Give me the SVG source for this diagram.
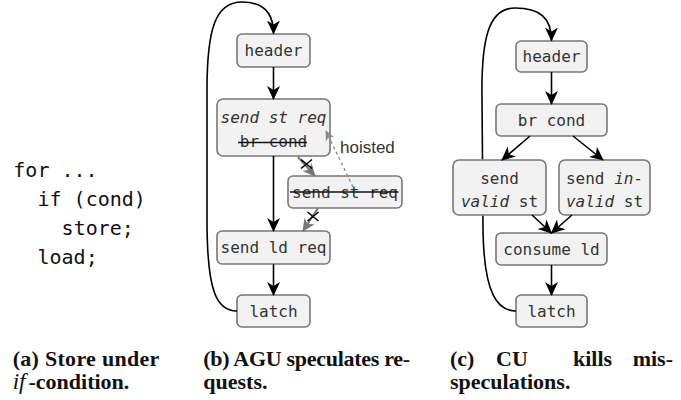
<svg xmlns="http://www.w3.org/2000/svg" width="681" height="400" viewBox="0 0 681 400">
<defs>
<style>
.box{fill:#f2f2f2;stroke:#777;stroke-width:1.6}
.nt{font-family:"DejaVu Sans Mono","Liberation Mono",monospace;font-size:16px;fill:#333;text-anchor:middle}
.it{font-style:italic}
.code{font-family:"DejaVu Sans Mono","Liberation Mono",monospace;font-size:20px;fill:#111}
.cap{font-family:"Liberation Serif",serif;font-size:22px;font-weight:bold;fill:#111}
.e{fill:none;stroke:#000;stroke-width:1.6;marker-end:url(#ah)}
.g{fill:none;stroke:#777;stroke-width:2;marker-end:url(#ag)}
.d{fill:none;stroke:#888;stroke-width:1.3;stroke-dasharray:3,3;marker-end:url(#ag2)}
.x{stroke:#000;stroke-width:1.6}
.strike{stroke:#111;stroke-width:1.6}
</style>
<marker id="ah" viewBox="0 0 14 14" refX="13" refY="7" markerWidth="14" markerHeight="14" markerUnits="userSpaceOnUse" orient="auto"><path d="M0,0.5 L14,7 L0,13.5 L4,7 z" fill="#000"/></marker>
<marker id="ag" viewBox="0 0 14 14" refX="13" refY="7" markerWidth="13" markerHeight="13" markerUnits="userSpaceOnUse" orient="auto"><path d="M0,0.5 L14,7 L0,13.5 L4,7 z" fill="#777"/></marker>
<marker id="ag2" viewBox="0 0 14 14" refX="13" refY="7" markerWidth="10" markerHeight="10" markerUnits="userSpaceOnUse" orient="auto"><path d="M0,0.5 L14,7 L0,13.5 L4,7 z" fill="#888"/></marker>
</defs>
<rect width="681" height="400" fill="#fff"/>

<g id="code">
<text class="code" x="13.3" y="177">for ...</text>
<text class="code" x="37.5" y="206">if (cond)</text>
<text class="code" x="61.6" y="235">store;</text>
<text class="code" x="37.5" y="264">load;</text>
</g>

<g id="b-header"><rect class="box" x="237" y="34" width="73" height="33" rx="5"/><text class="nt" x="273.5" y="56">header</text></g>
<g id="b-sendst"><rect class="box" x="217" y="99" width="113" height="57" rx="6"/>
<text class="nt it" x="273.5" y="123">send st req</text>
<text class="nt" x="273.5" y="147">br cond</text>
<line class="strike" x1="238" y1="142.5" x2="307" y2="142.5"/></g>
<g id="b-hoisted"><rect class="box" x="288" y="176" width="114" height="32" rx="5"/>
<text class="nt" x="345" y="197.5">send st req</text>
<line class="strike" x1="290" y1="192" x2="398.5" y2="192"/></g>
<text x="340" y="153" font-family="Liberation Sans,Arial,sans-serif" font-size="17" fill="#333">hoisted</text>
<g id="b-sendld"><rect class="box" x="217" y="231" width="113" height="33" rx="5"/><text class="nt" x="273.5" y="253">send ld req</text></g>
<g id="b-latch"><rect class="box" x="237" y="295" width="73" height="32" rx="5"/><text class="nt" x="273.5" y="317">latch</text></g>

<g id="c-header"><rect class="box" x="516" y="41" width="71" height="31" rx="5"/><text class="nt" x="551.5" y="62">header</text></g>
<g id="c-brcond"><rect class="box" x="496" y="104" width="111" height="32" rx="5"/><text class="nt" x="551.5" y="125.5">br cond</text></g>
<g id="c-valid"><rect class="box" x="453" y="160" width="93" height="55" rx="6"/>
<text class="nt" x="499.5" y="183.5">send</text>
<text class="nt" x="499.5" y="207"><tspan class="it">valid</tspan> st</text></g>
<g id="c-invalid"><rect class="box" x="559" y="160" width="91" height="55" rx="6"/>
<text class="nt" x="604.5" y="183.5">send <tspan class="it">in-</tspan></text>
<text class="nt" x="604.5" y="207"><tspan class="it">valid</tspan> st</text></g>
<g id="c-consume"><rect class="box" x="496" y="233" width="111" height="32" rx="5"/><text class="nt" x="551.5" y="255">consume ld</text></g>
<g id="c-latch"><rect class="box" x="516" y="295" width="71" height="32" rx="5"/><text class="nt" x="551.5" y="317">latch</text></g>

<g id="connectors">
<path class="e" d="M237,311 C216,311 207,290 207,220 L207,90 C207,30 215,2 242,2 C263,2 273.5,12 273.5,33.5"/>
<path class="e" d="M273.5,67 L273.5,99"/>
<path class="e" d="M273.5,156 L273.5,231"/>
<path class="e" d="M273.5,264 L273.5,295"/>
<path class="g" d="M298,157 L315,176"/>
<path class="g" d="M318,208 L303,231"/>
<path class="d" d="M353,187 L326,131"/>
<path class="x" d="M301,159.5 L312,168.5 M301,168.5 L312,159.5"/>
<path class="x" d="M307.5,212 L318.5,221 M307.5,221 L318.5,212"/>

<path class="e" d="M516,311 C498,311 484,295 483,230 L482.9,215.8 M482.5,159.2 L482,100 C481,40 488,8 515,8 C540,8 551.5,18 551.5,40.5"/>
<path class="e" d="M551.5,72 L551.5,104"/>
<path class="e" d="M530,136 L502,160"/>
<path class="e" d="M573,136 L603,160"/>
<path class="e" d="M532,215 L551.5,233"/>
<path class="e" d="M572,215 L551.5,233"/>
<path class="e" d="M551.5,265 L551.5,295"/>
</g>

<g id="captions">
<text class="cap" x="12.7" y="366" textLength="146.6" lengthAdjust="spacing">(a) Store under</text>
<text class="cap" x="12.7" y="389"><tspan font-style="italic" font-weight="normal" font-size="23">if</tspan><tspan x="28.5">-condition.</tspan></text>
<text class="cap" x="203.3" y="366" textLength="206.7" lengthAdjust="spacing">(b) AGU speculates re-</text>
<text class="cap" x="203.3" y="389">quests.</text>
<text class="cap" y="366"><tspan x="450">(c)</tspan><tspan x="496">CU</tspan><tspan x="573">kills</tspan><tspan x="673" text-anchor="end">mis-</tspan></text>
<text class="cap" x="450" y="389">speculations.</text>
</g>
</svg>
